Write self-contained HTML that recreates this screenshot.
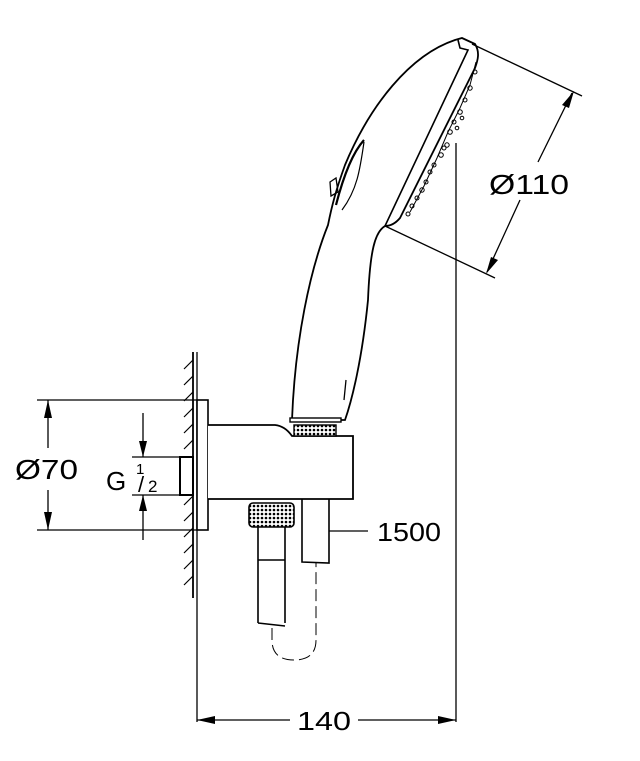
<!DOCTYPE html>
<html><head><style>html,body{margin:0;padding:0;background:#fff}svg{display:block}</style></head>
<body>
<svg width="640" height="761" viewBox="0 0 640 761" xmlns="http://www.w3.org/2000/svg" font-family="Liberation Sans, sans-serif">
<defs>
<pattern id="kn" width="4" height="4" patternUnits="userSpaceOnUse"><rect width="4" height="4" fill="#fff"/><circle cx="2" cy="2" r="1.3" fill="#000"/></pattern>
</defs>
<g fill="none" stroke="#000" stroke-width="1.3">
<line x1="193" y1="352" x2="193" y2="598" stroke-width="1.8"/>
<line x1="197" y1="352" x2="197" y2="722"/>
<g stroke-width="1.2">
<path d="M193,360 l-9,9 M193,376 l-9,9 M193,392 l-9,9 M193,408 l-9,9 M193,424 l-9,9 M193,440 l-9,9 M193,456 l-9,9 M193,496 l-9,9 M193,512 l-9,9 M193,528 l-9,9 M193,544 l-9,9 M193,560 l-9,9 M193,576 l-9,9"/>
</g>
<rect x="197" y="400" width="11" height="130" fill="#fff" stroke-width="1.6"/>
<rect x="180" y="457" width="13" height="38" fill="#fff" stroke-width="2"/>
<path d="M208,425 L275,425 Q285,426 292,436 L353,436 L353,499 L208,499" fill="#fff" stroke-width="1.8"/>
<rect x="294" y="425" width="42" height="11" fill="url(#kn)" stroke-width="1.4"/>
<path d="M292,420 C295,340 310,270 328,225 C332,205 336,190 345,165 C370,105 410,55 455,40 L462,38 L475,44 C480,52 478,60 475,68 L400,218 C395,224 390,226 385,226 C375,232 370,250 368,300 C362,360 352,400 345,420 Z" fill="#fff" stroke-width="1.8"/>
<path d="M458,40 L460,48 L468,50 L385,226" stroke-width="1.6"/>
<path d="M364,140 C355,150 345,170 336,205" stroke-width="2.2"/>
<path d="M364,142 C360,170 357,190 342,210" stroke-width="1.2"/>
<path d="M330,182 L336,178 L338,192 L331,196 Z" stroke-width="1.3"/>
<path d="M346,380 L344,400" stroke-width="1.3"/>
<g stroke-width="1">
<path d="M476,62 L470,85 L460,108 L448,132 L437,158 L424,186 L410,212"/>
<circle cx="475" cy="72" r="2"/><circle cx="470" cy="88" r="2.2"/><circle cx="465" cy="100" r="2"/><circle cx="460" cy="112" r="2.3"/><circle cx="454" cy="122" r="2"/><circle cx="450" cy="132" r="2.3"/><circle cx="447" cy="145" r="2.2"/><circle cx="441" cy="155" r="2.3"/><circle cx="444" cy="148" r="2"/><circle cx="434" cy="165" r="2"/><circle cx="430" cy="172" r="2"/><circle cx="426" cy="182" r="2"/><circle cx="422" cy="190" r="2.2"/><circle cx="417" cy="198" r="2"/><circle cx="412" cy="206" r="2"/><circle cx="408" cy="214" r="2"/><circle cx="462" cy="118" r="1.8"/><circle cx="457" cy="128" r="1.8"/>
</g>
<rect x="290" y="418" width="51" height="4" fill="#fff" stroke-width="1.4"/>
<rect x="249" y="503" width="45" height="24" rx="4" fill="url(#kn)" stroke-width="1.6"/>
<path d="M258,527 L258,623 M285,527 L285,623 M258,560 L285,560 M258,623 L285,626" stroke-width="1.6"/>
<path d="M302,499 L302,562 L329,563 L329,499" stroke-width="1.6"/>
<path d="M272,628 L272,640 Q272,660 294,660 Q316,660 316,640 L316,562" stroke-dasharray="12,5" stroke-width="1"/>
<line x1="329" y1="531" x2="368" y2="531"/>
<line x1="37" y1="400" x2="197" y2="400"/>
<line x1="37" y1="530" x2="197" y2="530"/>
<line x1="48" y1="400" x2="48" y2="448"/>
<line x1="48" y1="490" x2="48" y2="530"/>
<line x1="132" y1="457" x2="180" y2="457"/>
<line x1="132" y1="495" x2="180" y2="495"/>
<line x1="143" y1="413" x2="143" y2="457"/>
<line x1="143" y1="495" x2="143" y2="540"/>
<line x1="456" y1="143" x2="456" y2="722"/>
<line x1="197" y1="720" x2="290" y2="720"/>
<line x1="358" y1="720" x2="456" y2="720"/>
<line x1="472" y1="44" x2="582" y2="96"/>
<line x1="385" y1="226" x2="495" y2="278"/>
<line x1="572" y1="93" x2="538" y2="162"/>
<line x1="520" y1="200" x2="487" y2="272"/>
</g>
<g fill="#000">
<path d="M48,400 l-4,18 h8 z M48,530 l-4,-18 h8 z"/>
<path d="M143,457 l-4,-16 h8 z M143,495 l-4,16 h8 z"/>
<path d="M197,720 l18,-4 v8 z M456,720 l-18,-4 v8 z"/>
<path d="M574,91 l-12,14 l7,3 z M486,274 l12,-14 l-7,-3 z"/>
</g>
<g font-size="28" fill="#000">
<text x="15" y="479" textLength="63" lengthAdjust="spacingAndGlyphs">Ø70</text>
<text x="106" y="490" font-size="26">G</text>
<text x="136" y="474" font-size="15">1</text>
<text x="138" y="492" font-size="22">/</text>
<text x="148" y="492" font-size="17">2</text>
<text x="377" y="541" font-size="26" textLength="64" lengthAdjust="spacingAndGlyphs">1500</text>
<text x="297" y="730" font-size="26" textLength="54" lengthAdjust="spacingAndGlyphs">140</text>
<text x="489" y="194" textLength="80" lengthAdjust="spacingAndGlyphs">Ø110</text>
</g>
</svg>
</body></html>
